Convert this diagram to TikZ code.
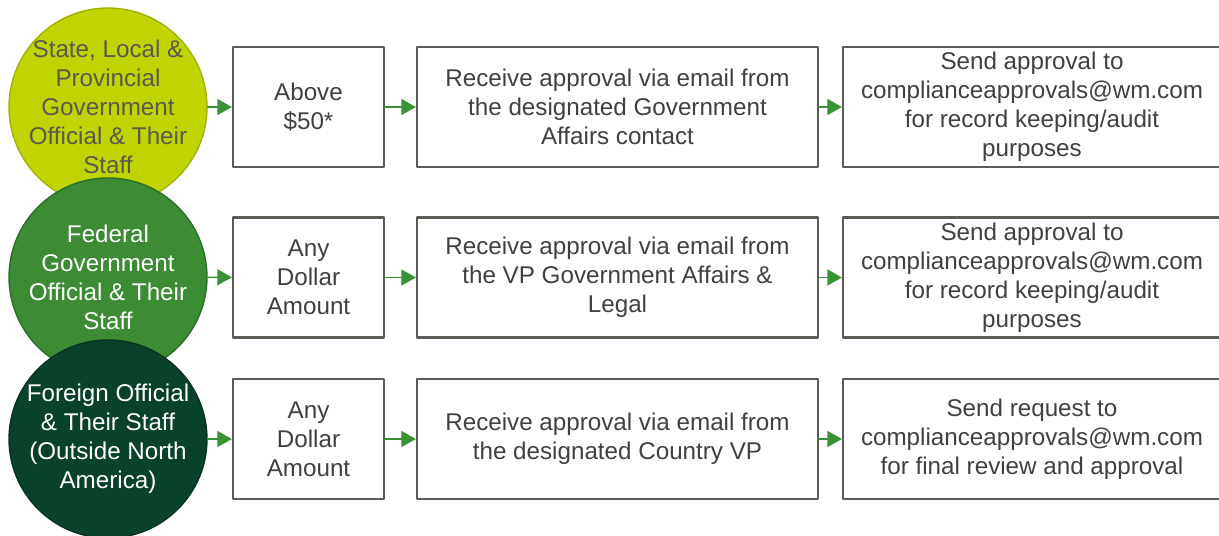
\documentclass[tikz,border=0pt]{standalone}
\usepackage{fontspec}
\setmainfont{Liberation Sans}
\usepackage{tikz}
\usetikzlibrary{arrows.meta}
\definecolor{limefill}{rgb}{0.75,0.83,0}
\definecolor{limeline}{rgb}{0.62,0.70,0}
\definecolor{midfill}{rgb}{0.23,0.55,0.20}
\definecolor{midline}{rgb}{0.16,0.43,0.16}
\definecolor{deepfill}{rgb}{0.03,0.26,0.17}
\definecolor{deepline}{rgb}{0.02,0.20,0.12}
\definecolor{arrgreen}{rgb}{0.22,0.57,0.20}
\definecolor{boxgray}{rgb}{0.36,0.36,0.34}
\definecolor{txtgray}{rgb}{0.25,0.25,0.25}
\definecolor{limetxt}{rgb}{0.35,0.35,0.31}

\tikzset{
  txt/.style={font=\fontsize{18.15}{21.75}\selectfont,align=center},
  who/.style={txt,circle,inner sep=-25pt,minimum size=148.5pt,line width=1pt},
  stepbox/.style={txt,draw=boxgray,line width=1.6pt,inner sep=0pt,text=txtgray,minimum height=90pt},
  flow/.style={-{Triangle[length=11pt,width=12pt]},draw=arrgreen,fill=arrgreen,line width=1.1pt}
}

\begin{document}
\begin{tikzpicture}[line cap=round,line join=round,x=0.75pt,y=-0.75pt]
\useasboundingbox (0,0) rectangle (1219,535);
% who is being given the gift
\node[who,fill=limefill,draw=limeline,text=limetxt] (stategov) at (108,107) {State, Local \&\\Provincial\\Government\\Official \& Their\\Staff};
\node[who,fill=midfill,draw=midline,text=white] (fedgov) at (108,277) {Federal\\Government\\Official \& Their\\Staff};
\node[who,fill=deepfill,draw=deepline,text=white] (foreign) at (108,439) {Foreign Official\\\& Their Staff\\(Outside North\\America)};
% amount
\node[stepbox,minimum width=113.25pt] (amt1) at (308.5,107) {Above\\\$50*};
\node[stepbox,minimum width=113.25pt] (amt2) at (308.5,277.5) {Any\\Dollar\\Amount};
\node[stepbox,minimum width=113.25pt] (amt3) at (308.5,439) {Any\\Dollar\\Amount};
% approval
\node[stepbox,minimum width=300.75pt] (ok1) at (617.5,107) {Receive approval via email from\\the designated Government\\Affairs contact};
\node[stepbox,minimum width=300.75pt] (ok2) at (617.5,277.5) {Receive approval via email from\\the VP Government Affairs \&\\Legal};
\node[stepbox,minimum width=300.75pt] (ok3) at (617.5,439) {Receive approval via email from\\the designated Country VP};
% record keeping
\node[stepbox,minimum width=283.5pt] (rec1) at (1032,107) {Send approval to\\complianceapprovals@wm.com\\for record keeping/audit\\purposes};
\node[stepbox,minimum width=283.5pt] (rec2) at (1032,277.5) {Send approval to\\complianceapprovals@wm.com\\for record keeping/audit\\purposes};
\node[stepbox,minimum width=283.5pt] (rec3) at (1032,439) {Send request to\\complianceapprovals@wm.com\\for final review and approval};
% arrows
\draw[flow] (stategov) -- (amt1);
\draw[flow] (amt1) -- (ok1);
\draw[flow] (ok1) -- (rec1);
\draw[flow] (fedgov) -- (amt2);
\draw[flow] (amt2) -- (ok2);
\draw[flow] (ok2) -- (rec2);
\draw[flow] (foreign) -- (amt3);
\draw[flow] (amt3) -- (ok3);
\draw[flow] (ok3) -- (rec3);
\end{tikzpicture}
\end{document}
